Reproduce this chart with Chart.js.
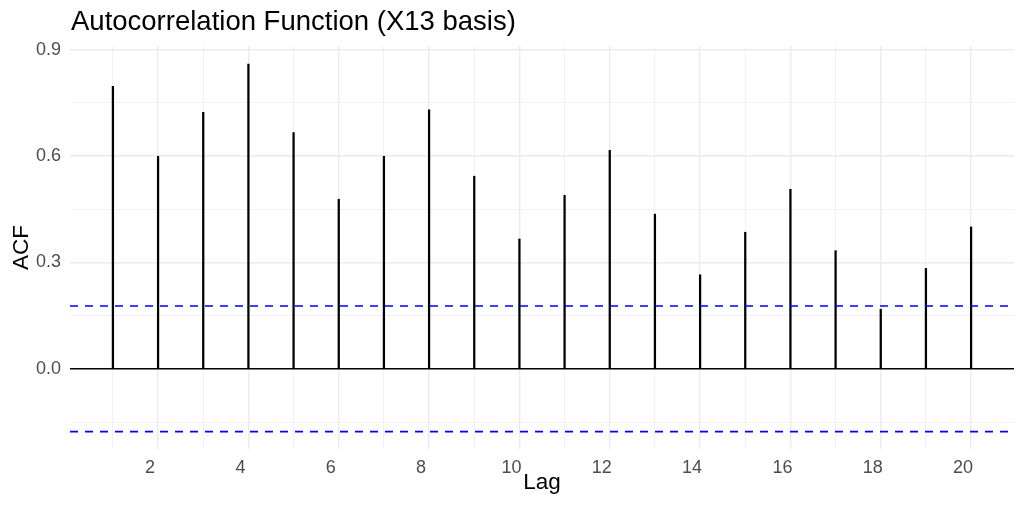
<!DOCTYPE html>
<html lang="en">
<head>
<meta charset="UTF-8">
<title>Autocorrelation Function (X13 basis)</title>
<script src="https://cdn.jsdelivr.net/npm/chart.js"></script>
<style>
  html, body { margin: 0; padding: 0; background: #fff; }
  #acfChart { display: block; }
</style>
</head>
<body>
<canvas id="acfChart" width="1024" height="512"></canvas>
<script>
// data
const lags = [1, 2, 3, 4, 5, 6, 7, 8, 9, 10, 11, 12, 13, 14, 15, 16, 17, 18, 19, 20];
const acfValues = [0.796, 0.599, 0.723, 0.859, 0.666, 0.478, 0.599, 0.730, 0.543, 0.366,
                   0.489, 0.616, 0.436, 0.265, 0.385, 0.506, 0.333, 0.168, 0.283, 0.400];
const ciBound = 0.177;
const xTickLabels = [2, 4, 6, 8, 10, 12, 14, 16, 18, 20];
const yTicks = [-0.15, 0, 0.15, 0.3, 0.45, 0.6, 0.75, 0.9];
const yTickLabels = [0, 0.3, 0.6, 0.9];
const xRange = [0.05, 20.95];
const yRange = [-0.226, 0.91];

const titleText = 'Autocorrelation Function (X13 basis)';
const fontFamily = '"Liberation Sans", Arial, Helvetica, sans-serif';
const gridColor = '#EBEBEB';

const titlePlugin = {
    id: 'plotTitle',
    afterDraw(chart) {
        const ctx = chart.ctx;
        ctx.save();
        ctx.font = '27.5px ' + fontFamily;
        ctx.fillStyle = '#000';
        ctx.textAlign = 'left';
        ctx.textBaseline = 'alphabetic';
        ctx.fillText(titleText, chart.chartArea.left + 1, 29.5);
        ctx.restore();
    }
};

const ctx = document.getElementById('acfChart').getContext('2d');
new Chart(ctx, {
    type: 'bar',
    data: {
        datasets: [
            {
                type: 'bar',
                data: lags.map((l, i) => ({ x: l, y: acfValues[i] })),
                backgroundColor: '#000',
                borderWidth: 0,
                barThickness: 1.6,
                order: 2
            },
            {
                type: 'line',
                data: [{ x: xRange[0], y: ciBound }, { x: xRange[1], y: ciBound }],
                borderColor: '#0000FF',
                borderWidth: 1.6,
                borderDash: [8, 7],
                pointRadius: 0,
                fill: false,
                order: 1
            },
            {
                type: 'line',
                data: [{ x: xRange[0], y: -ciBound }, { x: xRange[1], y: -ciBound }],
                borderColor: '#0000FF',
                borderWidth: 1.6,
                borderDash: [8, 7],
                pointRadius: 0,
                fill: false,
                order: 1
            }
        ]
    },
    options: {
        responsive: false,
        animation: false,
        layout: { padding: { top: 46, left: 0, right: 10, bottom: 0 } },
        plugins: {
            legend: { display: false },
            tooltip: { enabled: false },
            title: { display: false }
        },
        scales: {
            x: {
                type: 'linear',
                min: xRange[0],
                max: xRange[1],
                offset: false,
                afterBuildTicks: scale => { scale.ticks = lags.map(v => ({ value: v })); },
                afterFit: scale => { scale.height = 63; },
                border: { display: false },
                grid: {
                    offset: false,
                    drawTicks: false,
                    color: gridColor,
                    lineWidth: c => (xTickLabels.includes(c.tick.value) ? 1.4 : 0.7)
                },
                ticks: {
                    padding: 8,
                    labelOffset: -8,
                    autoSkip: false,
                    maxRotation: 0,
                    color: '#4D4D4D',
                    font: { family: fontFamily, size: 18 },
                    callback: v => (xTickLabels.includes(v) ? String(v) : '')
                },
                title: {
                    display: true,
                    text: 'Lag',
                    color: '#000',
                    font: { family: fontFamily, size: 22.5 },
                    padding: { top: 0, bottom: 16 }
                }
            },
            y: {
                min: yRange[0],
                max: yRange[1],
                afterBuildTicks: scale => { scale.ticks = yTicks.map(v => ({ value: v })); },
                afterFit: scale => { scale.width = 70; },
                border: { display: false },
                grid: {
                    drawTicks: false,
                    color: c => (c.tick.value === 0 ? '#000' : gridColor),
                    lineWidth: c => (c.tick.value === 0 ? 1.6 : (yTickLabels.includes(c.tick.value) ? 1.4 : 0.7))
                },
                ticks: {
                    padding: 9,
                    color: '#4D4D4D',
                    font: { family: fontFamily, size: 18 },
                    callback: v => (yTickLabels.includes(v) ? v.toFixed(1) : '')
                },
                title: {
                    display: true,
                    text: 'ACF',
                    color: '#000',
                    font: { family: fontFamily, size: 22.5 },
                    padding: { top: 8, bottom: 0 }
                }
            }
        }
    },
    plugins: [titlePlugin]
});
</script>
</body>
</html>
